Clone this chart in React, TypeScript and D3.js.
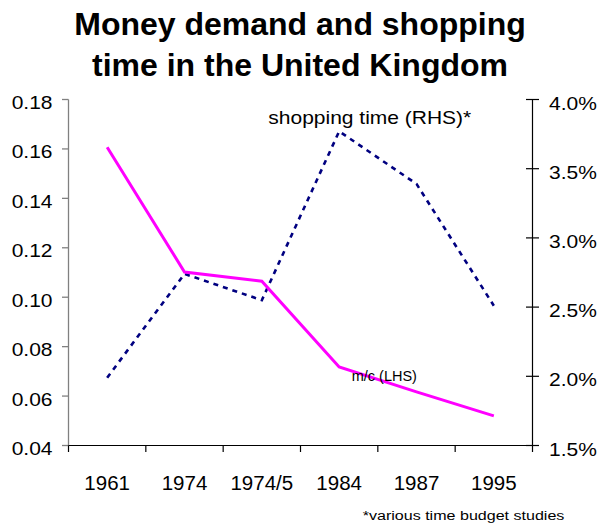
import React from "react";
import * as d3 from "d3";

const categories = ["1961", "1974", "1974/5", "1984", "1987", "1995"];
const moneyDemand = [0.1607, 0.1102, 0.1065, 0.0718, 0.0617, 0.052];
const shoppingTime = [0.0199, 0.0274, 0.0255, 0.0377, 0.0339, 0.0251];
const leftTicks = [0.04, 0.06, 0.08, 0.1, 0.12, 0.14, 0.16, 0.18];
const rightTicks = [0.015, 0.02, 0.025, 0.03, 0.035, 0.04];
const titleLines = ["Money demand and shopping", "time in the United Kingdom"];

const W = 600;
const H = 531;
const FONT = "'Liberation Sans', Arial, Helvetica, sans-serif";

export default function App() {
  const left = 68.5;
  const right = 532.5;
  const top = 99.5;
  const bottom = 445.5;

  const x = d3.scaleBand<string>().domain(categories).range([left, right]).padding(0);
  const yL = d3.scaleLinear().domain([0.04, 0.18]).range([bottom, top]);
  const yR = d3.scaleLinear().domain([0.015, 0.04]).range([bottom, top]);
  const cx = (c: string) => (x(c) as number) + x.bandwidth() / 2;

  const lineL = d3
    .line<number>()
    .x((_, i) => cx(categories[i]))
    .y((d) => yL(d));
  const lineR = d3
    .line<number>()
    .x((_, i) => cx(categories[i]))
    .y((d) => yR(d));

  const boundaries = categories.map((c) => x(c) as number).concat([right]);
  const fmtL = d3.format(".2f");
  const fmtR = d3.format(".1%");

  return (
    <svg
      width={W}
      height={H}
      style={{ position: "absolute", left: 0, top: 0, background: "#fff" }}
      fontFamily={FONT}
    >
      <rect x={0} y={0} width={W} height={H} fill="#fff" />
      {titleLines.map((t, i) => (
        <text
          key={t}
          x={300}
          y={34.5 + i * 41.7}
          textAnchor="middle"
          fontSize={32}
          fontWeight="bold"
          fill="#000"
        >
          {t}
        </text>
      ))}

      {/* left axis */}
      <line x1={left} x2={left} y1={top} y2={bottom} stroke="#808080" strokeWidth={1.3} />
      {leftTicks.map((t) => (
        <g key={"l" + t}>
          <line x1={left - 6.5} x2={left} y1={yL(t)} y2={yL(t)} stroke="#808080" strokeWidth={1.3} />
          <text
            transform={`translate(52.5,${yL(t) + 9.5}) scale(1.2,1)`}
            textAnchor="end"
            fontSize={17.5}
            fill="#000"
          >
            {fmtL(t)}
          </text>
        </g>
      ))}

      {/* right axis */}
      <line x1={right} x2={right} y1={top} y2={bottom} stroke="#000" strokeWidth={1.2} />
      {rightTicks.map((t) => (
        <g key={"r" + t}>
          <line x1={right - 6.5} x2={right + 6.5} y1={yR(t)} y2={yR(t)} stroke="#000" strokeWidth={1.2} />
          <text
            transform={`translate(549,${yR(t) + 10}) scale(1.2,1)`}
            textAnchor="start"
            fontSize={17.5}
            fill="#000"
          >
            {fmtR(t)}
          </text>
        </g>
      ))}

      {/* bottom axis */}
      <line x1={left} x2={right} y1={bottom} y2={bottom} stroke="#000" strokeWidth={1.2} />
      {boundaries.map((b, i) => (
        <line key={"xt" + i} x1={b} x2={b} y1={bottom} y2={bottom + 6.5} stroke="#000" strokeWidth={1.2} />
      ))}
      {categories.map((c) => (
        <text key={c} x={cx(c)} y={490} textAnchor="middle" fontSize={20.5} fill="#000">
          {c}
        </text>
      ))}

      {/* series */}
      <path
        d={lineR(shoppingTime) || ""}
        fill="none"
        stroke="#000080"
        strokeWidth={2.6}
        strokeDasharray="5,5"
      />
      <path d={lineL(moneyDemand) || ""} fill="none" stroke="#FF00FF" strokeWidth={3} />

      {/* annotations */}
      <text transform="translate(268.3,124) scale(1.2,1)" fontSize={17.5} fill="#000">
        shopping time (RHS)*
      </text>
      <text x={351.7} y={381} fontSize={14.5} fill="#000">
        m/c (LHS)
      </text>
      <text transform="translate(362.7,520) scale(1.19,1)" fontSize={13.5} fill="#000">
        *various time budget studies
      </text>
    </svg>
  );
}
